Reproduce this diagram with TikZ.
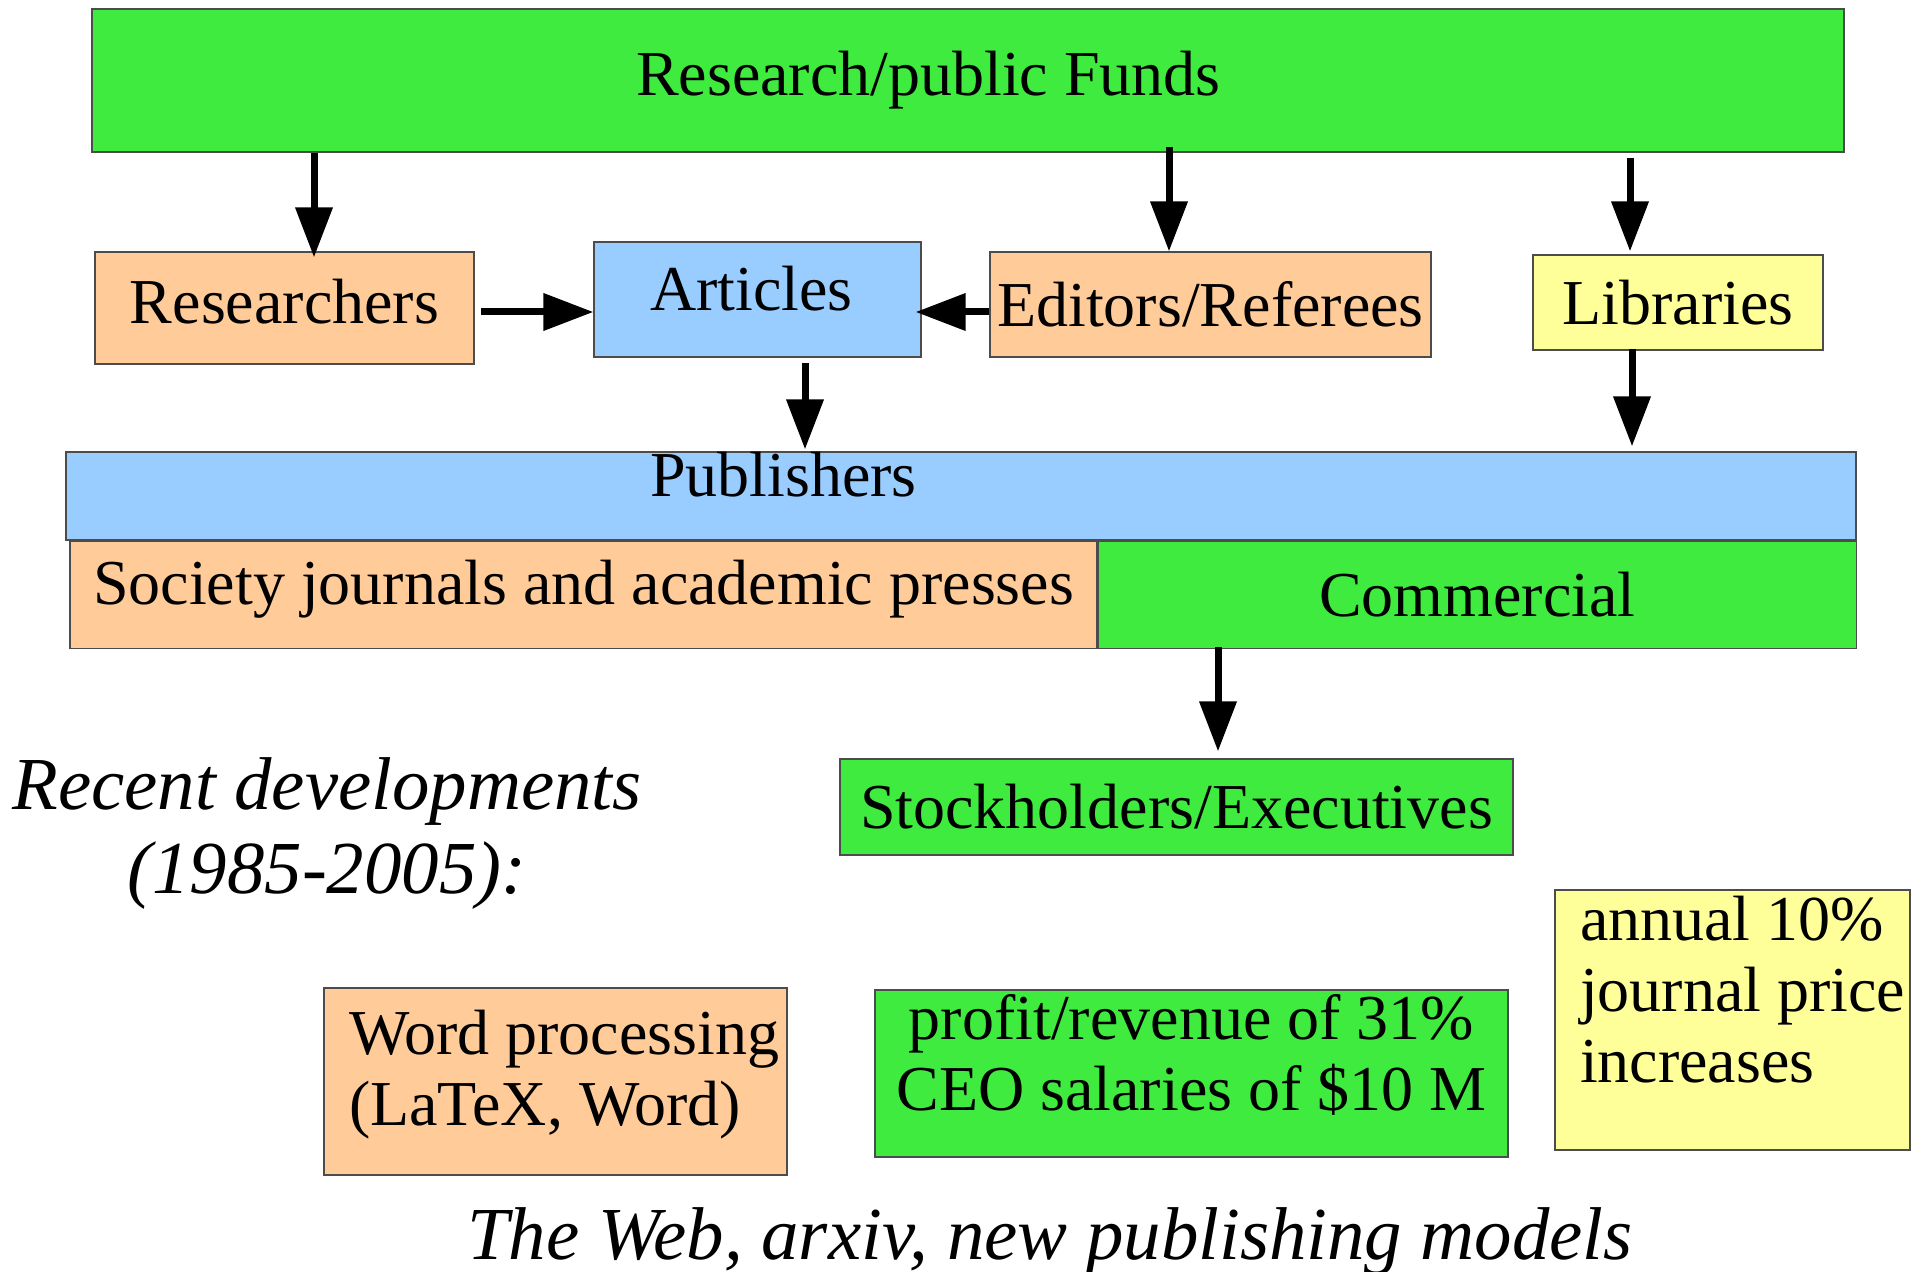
\documentclass[tikz,border=0pt]{standalone}
\usepackage{fontspec}
\setmainfont{Liberation Serif}
\usetikzlibrary{arrows.meta, positioning}

\definecolor{fundgreen}{RGB}{63,235,63}
\definecolor{peach}{RGB}{255,204,153}
\definecolor{skyblue}{RGB}{153,204,255}
\definecolor{paleyellow}{RGB}{255,255,153}

\begin{document}
\begin{tikzpicture}[
  x=0.5pt, y=-0.5pt,
  font=\fontsize{32}{35.5}\selectfont,
  box/.style={draw=black!70, line width=0.6pt, rectangle, inner sep=0pt, align=center},
  arrow/.style={line width=3.5pt, -{Triangle[length=25pt, width=18pt]}},
  note/.style={font=\fontsize{37.4}{42}\selectfont\itshape, align=center}
]
\useasboundingbox (0,0) rectangle (1926,1272);

% Noeuds
\node[box, fill=fundgreen, minimum width=876pt, minimum height=71.5pt, text width=876pt, align=flush left] (funds) at (968,80.5) {\hspace*{272pt}\mbox{Research/public Funds}};

\node[box, fill=peach, minimum width=189.5pt, minimum height=56pt, text height=22pt, text depth=6pt] (res) at (284.5,308) {Researchers};
\node[box, fill=skyblue, minimum width=163.5pt, minimum height=57.5pt, text width=163.5pt, align=flush left,
  text height=21pt, text depth=10pt] (art) at (757.5,299.5) {\hspace*{28pt}\mbox{Articles}};
\node[box, fill=peach, minimum width=220.5pt, minimum height=52.5pt] (edit) at (1210.5,304.5) {Editors/Referees};
\node[box, fill=paleyellow, minimum width=145pt, minimum height=47.5pt] (lib) at (1678,302.5) {Libraries};

\node[box, fill=skyblue, minimum width=895pt, minimum height=44pt, text width=895pt, align=flush left,
  text height=11pt, text depth=11pt] (pub) at (961,496) {\hspace*{292pt}\mbox{Publishers}};
\node[box, fill=peach, minimum width=513.5pt, minimum height=53.5pt, text height=22pt, text depth=12pt,
  below right=0pt and 2pt of pub.south west] (soc) {Society journals and academic presses};
\node[box, fill=fundgreen, minimum width=379pt, minimum height=53.5pt, right=0pt of soc] (com) {Commercial};

\node[box, fill=fundgreen, minimum width=336.5pt, minimum height=48pt] (stock) at (1176.5,807) {Stockholders/Executives};

\node[note] (recent) at (327,834) {Recent developments\\(1985-2005):};

\node[box, fill=peach, minimum width=231.5pt, minimum height=93.5pt, text width=206.5pt, inner xsep=12.5pt,
  align=flush left, text height=33pt, text depth=60.5pt] (word) at (555.5,1081.5) {\mbox{Word processing}\\\mbox{(LaTeX, Word)}};
\node[box, fill=fundgreen, minimum width=316.5pt, minimum height=83.5pt, text depth=21pt] (profit) at (1191.5,1073.5) {profit/revenue of 31\%\\CEO salaries of \$10 M};
\node[box, fill=paleyellow, minimum width=177.5pt, minimum height=130pt, text width=152.5pt, inner xsep=12.5pt,
  align=flush left, text height=25pt, text depth=105pt] (annual) at (1732.5,1020) {\mbox{annual 10\%}\\\mbox{journal price}\\\mbox{increases}};

\node[note, anchor=base] (web) at (1050,1259) {The Web, arxiv, new publishing models};

% Flèches
\coordinate (t1) at ([xshift=14.75pt, yshift=-3pt]res.north);
\coordinate (t2) at ([xshift=-20.75pt]edit.north);
\coordinate (t3) at ([xshift=-24pt, yshift=1.5pt]lib.north);
\coordinate (s3) at ([xshift=-24pt, yshift=-2.5pt]funds.south -| lib.north);
\coordinate (t4) at ([xshift=23.75pt, yshift=1pt]art.south |- pub.north);
\coordinate (s4) at ([xshift=23.75pt, yshift=-2.5pt]art.south);
\coordinate (t5) at ([xshift=-23pt, yshift=2.5pt]lib.south |- pub.north);
\coordinate (s5) at ([xshift=-23pt, yshift=1pt]lib.south);
\coordinate (t6) at ([xshift=20.75pt, yshift=3.5pt]stock.north);
\coordinate (s6) at ([xshift=20.75pt, yshift=1pt]stock.north |- com.south);

\draw[arrow] (t1 |- funds.south) -- (t1);
\draw[arrow] ([yshift=3pt]t2 |- funds.south) -- (t2);
\draw[arrow] (s3) -- (t3);
\draw[arrow] ([xshift=3pt, yshift=-2pt]res.east) -- ([yshift=-2pt]art.west |- res.east);
\draw[arrow] ([yshift=-3.75pt]edit.west) -- ([xshift=-3pt, yshift=-3.75pt]art.east |- edit.west);
\draw[arrow] (s4) -- (t4);
\draw[arrow] (s5) -- (t5);
\draw[arrow] (s6) -- (t6);

\end{tikzpicture}
\end{document}
